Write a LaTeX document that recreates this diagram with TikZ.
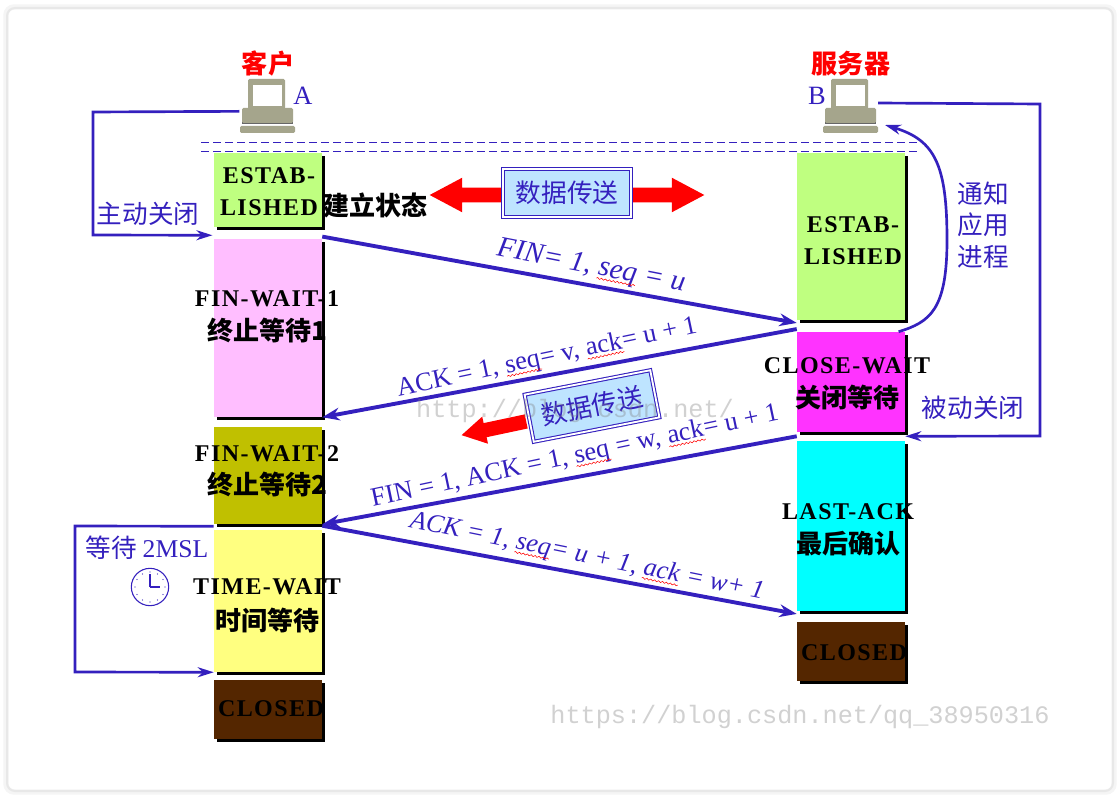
\documentclass[tikz,border=0pt]{standalone}
\usepackage{fontspec}
\setmainfont{Liberation Serif}
\newfontfamily\cjk{Noto Sans CJK SC}
\newfontfamily\wmfont{Liberation Mono}
\newfontfamily\statefont[LetterSpace=6]{Liberation Serif Bold}
\usetikzlibrary{arrows.meta,shadows,shapes.arrows,decorations.pathmorphing}
\definecolor{tcpblue}{RGB}{52,32,190}
\definecolor{estabcol}{RGB}{191,255,128}
\definecolor{waitonecol}{RGB}{255,190,255}
\definecolor{waittwocol}{RGB}{192,192,0}
\definecolor{timecol}{RGB}{255,255,128}
\definecolor{closedcol}{RGB}{84,38,0}
\definecolor{closewaitcol}{RGB}{255,51,255}
\definecolor{lastackcol}{RGB}{0,255,255}
\definecolor{bannercol}{RGB}{190,228,255}
\definecolor{pccol}{RGB}{165,165,140}
\newcommand{\redwave}[1]{\tikz[baseline=(wavy.base),x=1cm,y=1cm]{\node[inner sep=0pt,text=tcpblue] (wavy) {#1};
    \draw[red,line width=.4pt,decorate,decoration={snake,amplitude=.6pt,segment length=3pt}] ([yshift=-2.5pt]wavy.base west) -- ([yshift=-2.5pt]wavy.base east);}}
\newcommand{\statecn}[1]{{\cjk\bfseries\fontsize{19.5}{24}\selectfont #1}}
\tikzset{
    statebox/.style={minimum width=81pt,inner sep=0pt,draw=none,
        drop shadow={shadow xshift=2.4pt,shadow yshift=-2.4pt,fill=black,opacity=1}},
    statetext/.style={align=center,font=\statefont\fontsize{18}{24}\selectfont,text=black,inner sep=0pt},
    bluetext/.style={text=tcpblue,inner sep=0pt,font=\cjk\fontsize{19.2}{23.5}\selectfont},
    msgtext/.style={text=tcpblue,inner sep=0pt,font=\fontsize{19.8}{22}\selectfont},
    redtext/.style={text=red,inner sep=0pt,font=\cjk\bfseries\fontsize{19.6}{22}\selectfont},
    msgline/.style={draw=tcpblue,line width=2.9pt,-{Stealth[length=13pt,width=9.5pt]}},
    loopline/.style={draw=tcpblue,line width=2pt,-{Stealth[length=12pt,width=7.5pt]}},
    banner/.style={draw=tcpblue,double=white,double distance=1.4pt,line width=.8pt,fill=bannercol,
        text=tcpblue,inner sep=0pt,minimum width=96pt,minimum height=36pt,font=\cjk\fontsize{19.3}{22}\selectfont},
    pcspot/.style={minimum width=41pt,minimum height=41pt,inner sep=0pt},
    watermark/.style={text=gray,opacity=.36,inner sep=0pt,font=\wmfont\fontsize{18.9}{22}\selectfont}
}
\begin{document}
\begin{tikzpicture}[x=.75pt,y=-.75pt]
    \useasboundingbox (0,0) rectangle (1120,798);
    \fill[white] (0,0) rectangle (1120,798);
    \draw[black!4,line width=4pt,rounded corners=6pt] (6,7) rectangle (1114,792);
    \draw[black!9,line width=1.5pt,rounded corners=6pt] (7,8) rectangle (1113,791);

    % computers
    \node[pcspot] (pcA) at (267,106) {};
    \node[pcspot] (pcB) at (850,106) {};
    \foreach \pc in {pcA,pcB} {
        \begin{scope}[shift={(\pc.center)}]
            \fill[pccol,rounded corners=1pt] (-19,-27) rectangle (18,3);
            \fill[white] (-14,-21) rectangle (15,0);
            \fill[black!60] (-25,16) rectangle (26,18);
            \fill[pccol,rounded corners=1pt] (-25,2) rectangle (26,17);
            \fill[pccol,rounded corners=1pt] (-27,20) rectangle (28,27);
        \end{scope}
    }
    \node[redtext] (clientname) at (268,64) {客户};
    \node[redtext] (servername) at (851,64) {服务器};
    \node[msgtext] (nameA) at (303,96) {A};
    \node[msgtext] (nameB) at (817,96) {B};

    % dashed lines
    \coordinate (dashAa) at (201,142);
    \coordinate (dashBa) at (920,142);
    \coordinate (dashAb) at (201,151);
    \coordinate (dashBb) at (920,151);
    \draw[tcpblue,dash pattern=on 6pt off 3pt,line width=.7pt] (dashAa) -- (dashBa);
    \draw[tcpblue,dash pattern=on 6pt off 3pt,line width=.7pt] (dashAb) -- (dashBb);

    % client column
    \begin{scope}
        \node[statebox,fill=estabcol,minimum height=55.5pt] (estabA) at (268,190) {};
        \node[statebox,fill=waitonecol,minimum height=133.5pt] (waitone) at (268,328) {};
        \node[statebox,fill=waittwocol,minimum height=72.75pt] (waittwo) at (268,475.5) {};
        \node[statebox,fill=timecol,minimum height=106.5pt] (timewait) at (268,601) {};
        \node[statebox,fill=closedcol,minimum height=44.25pt] (closedA) at (268,709.5) {};
    \end{scope}
    % server column
    \begin{scope}
        \node[statebox,fill=estabcol,minimum height=125.25pt] (estabB) at (851,236.5) {};
        \node[statebox,fill=closewaitcol,minimum height=75pt] (closewait) at (851,382) {};
        \node[statebox,fill=lastackcol,minimum height=127.5pt] (lastack) at (851,526) {};
        \node[statebox,fill=closedcol,minimum height=44.25pt] (closedB) at (851,651.5) {};
    \end{scope}

    % state names
    \node[statetext] (estabAtext) at (269,192) {ESTAB-\\LISHED};
    \node[statetext] (estabAcn) at (375,205) {\statecn{建立状态}};
    \node[statetext] (waitonetext) at (267,317) {FIN-WAIT-1\\[1.5pt]\statecn{终止等待1}};
    \node[statetext] (waittwotext) at (267,471) {FIN-WAIT-2\\[1pt]\statecn{终止等待2}};
    \node[statetext] (timetext) at (267,606) {TIME-WAIT\\[3pt]\statecn{时间等待}};
    \node[statetext] (closedAtext) at (271,709) {CLOSED};
    \node[statetext] (estabBtext) at (853,241) {ESTAB-\\LISHED};
    \node[statetext] (closewaittext) at (847,384) {CLOSE-WAIT\\[1.5pt]\statecn{关闭等待}};
    \node[statetext] (lastacktext) at (848,530) {LAST-ACK\\[1.5pt]\statecn{最后确认}};
    \node[statetext] (closedBtext) at (854,653) {CLOSED};

    % data transfer
    \node[double arrow,fill=red,inner xsep=0pt,inner ysep=5.25pt,minimum height=206pt,
        double arrow head extend=7.5pt,double arrow tip angle=56] (databoth) at (567,195) {};
    \node[banner] (datatop) at (567,193) {数据传送};
    \node[single arrow,fill=red,inner xsep=0pt,inner ysep=5.2pt,minimum height=49.5pt,
        single arrow head extend=5pt,single arrow tip angle=60,rotate=192] (dataleft) at (500,427) {};
    \node[banner,rotate=11] (datamid) at (592,406) {数据传送};

    % messages
    \draw[msgline] ([yshift=-7pt]estabA.south east) -- ([yshift=-2pt]estabB.south west);
    \draw[msgline] ([yshift=2pt]closewait.north west) -- (waitone.south east);
    \draw[msgline] ([yshift=-3pt]closewait.south west) -- (waittwo.south east);
    \draw[msgline] ([yshift=3pt]timewait.north east) -- ([yshift=-2pt]lastack.south west);

    \node[msgtext,rotate=-11,font=\itshape\fontsize{21.8}{22}\selectfont] (finone) at (591,267) {FIN= 1, \redwave{seq} = u};
    \node[msgtext,rotate=12] (ackone) at (547,358) {ACK = 1, \redwave{seq}= v, \redwave{ack}= u + 1};
    \node[msgtext,rotate=12] (fintwo) at (575,457) {FIN = 1, ACK = 1, \redwave{seq} = w, \redwave{ack}= u + 1};
    \node[msgtext,rotate=-11.5,font=\itshape\fontsize{19.6}{22}\selectfont] (acktwo) at (587,557) {ACK = 1, \redwave{seq}= u + 1, \redwave{ack} = w+ 1};

    % loops at the sides
    \coordinate (closeleft) at (93,112);
    \coordinate (closeleftb) at (93,235);
    \draw[loopline] ([yshift=-4pt]pcA.west) -- (closeleft) -- (closeleftb) -- ([yshift=-6pt,xshift=-1pt]estabA.south west);
    \coordinate (closeright) at (1040,104);
    \coordinate (closerightb) at (1040,436);
    \coordinate (closerighta) at (878,103);
    \draw[loopline] (closerighta) -- (closeright) -- (closerightb) -- ([yshift=-3pt]closewait.south east);
    \draw[loopline] ([xshift=-5pt]closewait.north east) .. controls (930,322) and (947,310) .. (947,240)
        .. controls (947,165) and (935,140) .. (885,125);
    \coordinate (waitleft) at (75,526);
    \coordinate (waitleftb) at (75,672);
    \draw[loopline] ([yshift=-1.5pt]waittwo.south west) -- (waitleft) -- (waitleftb) -- (timewait.south west);

    % side labels
    \node[bluetext] (activeclose) at (148,214) {主动关闭};
    \node[bluetext,align=center] (notify) at (983,225) {通知\\应用\\进程};
    \node[bluetext] (passiveclose) at (973,408) {被动关闭};
    \node[bluetext] (waitmsl) at (147,548) {等待 {\fontspec{Liberation Serif}2MSL}};

    % clock
    \node[circle,draw=tcpblue,line width=.8pt,minimum size=28pt,inner sep=0pt] (clock) at (150,587) {};
    \foreach \ang in {0,30,...,330}
        \fill[tcpblue] (clock.center) ++(\ang:15) circle (.5pt);
    \draw[tcpblue,line width=1.2pt] (clock.center) -- ++(0,-13);
    \draw[tcpblue,line width=1.2pt] (clock.center) -- ++(10,0);

    % watermarks
    \node[watermark] (markmid) at (575,411) {http://blog.csdn.net/};
    \node[watermark] (markbottom) at (800,717) {https://blog.csdn.net/qq\_38950316};
\end{tikzpicture}
\end{document}
